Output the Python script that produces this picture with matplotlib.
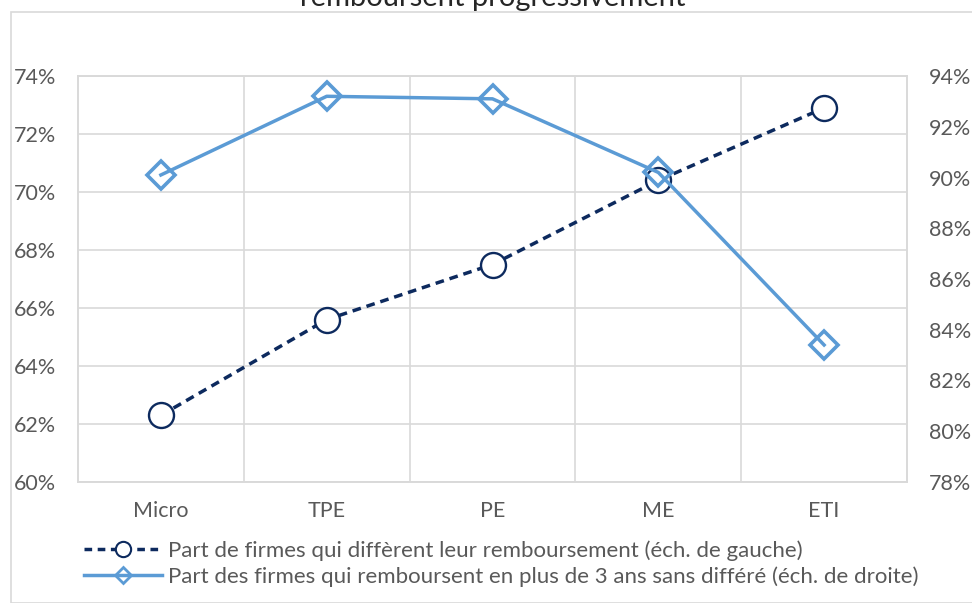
import matplotlib.pyplot as plt
from matplotlib.patches import Rectangle
from matplotlib.ticker import FuncFormatter, MultipleLocator
from matplotlib.lines import Line2D

plt.rcParams['font.family'] = ['Lato', 'DejaVu Sans']

categories = ['Micro', 'TPE', 'PE', 'ME', 'ETI']
differe = [62.3, 65.6, 67.5, 70.4, 72.9]      # échelle de gauche
rembourse = [90.1, 93.2, 93.1, 90.2, 83.4]    # échelle de droite

lab_differe = "Part de firmes qui diffèrent leur remboursement (éch. de gauche)"
lab_rembourse = "Part des firmes qui remboursent en plus de 3 ans sans différé (éch. de droite)"

dark = '#0d2a5e'
light = '#5b9bd5'
grey = '#595959'

W, H = 972, 603
fig = plt.figure(figsize=(W / 100, H / 100), dpi=100)

# cadre du graphique
fig.patches.append(Rectangle((11 / W, 0), 1, 1 - 12 / H, transform=fig.transFigure,
                             fill=False, edgecolor='#d9d9d9', lw=1.2))

# titre coupé en haut (comme sur l'original)
fig.text(493 / W, 1 - 6 / H, "remboursent progressivement", ha='center', va='baseline',
         fontsize=21, color='#262626')

ax = fig.add_axes([78 / W, 1 - 482 / H, (907 - 78) / W, (482 - 76) / H])
ax2 = ax.twinx()

x = list(range(len(categories)))
ax.plot(x, differe, color=dark, lw=2.5, ls=(0, (2.5, 1.7)), marker='o', ms=18,
        mfc='white', mec=dark, mew=1.7, zorder=3)
ax2.plot(x, rembourse, color=light, lw=2.5, marker='D', ms=14.5, mfc='none',
         mec=light, mew=2.6, zorder=3)

ax.set_xlim(-0.5, 4.5)
ax.set_ylim(60, 74)
ax2.set_ylim(78, 94)
ax.yaxis.set_major_locator(MultipleLocator(2))
ax2.yaxis.set_major_locator(MultipleLocator(2))
fmt = FuncFormatter(lambda v, p: f"{v:.0f}%")
ax.yaxis.set_major_formatter(fmt)
ax2.yaxis.set_major_formatter(fmt)

ax.set_xticks(x)
ax.set_xticklabels(categories)
ax.set_xticks([i + 0.5 for i in x[:-1]], minor=True)
ax.grid(True, which='minor', axis='x', color='#d9d9d9', lw=1.2)
ax.grid(True, which='major', axis='y', color='#d9d9d9', lw=1.2)
ax.set_axisbelow(True)

for a in (ax, ax2):
    for s in a.spines.values():
        s.set_color('#d9d9d9')
        s.set_linewidth(1.2)
    a.tick_params(which='both', length=0, labelsize=15.5, labelcolor=grey)
ax.tick_params(axis='y', pad=16)
ax2.tick_params(axis='y', pad=16)
ax.tick_params(axis='x', pad=14)

handles = [
    Line2D([], [], color=dark, lw=2.5, ls=(0, (2.2, 1.6)), marker='o', ms=11,
           mfc='white', mec=dark, mew=1.5),
    Line2D([], [], color=light, lw=2.5, marker='D', ms=8, mfc='none', mec=light, mew=2),
]
fig.legend(handles, [lab_differe, lab_rembourse], loc='upper left',
           bbox_to_anchor=(84 / W, 1 - 540 / H), frameon=False, fontsize=16,
           labelcolor=grey, handlelength=3.5, handletextpad=0.3, labelspacing=0.25,
           borderpad=0, borderaxespad=0)

fig.savefig('out.png', dpi=100)
